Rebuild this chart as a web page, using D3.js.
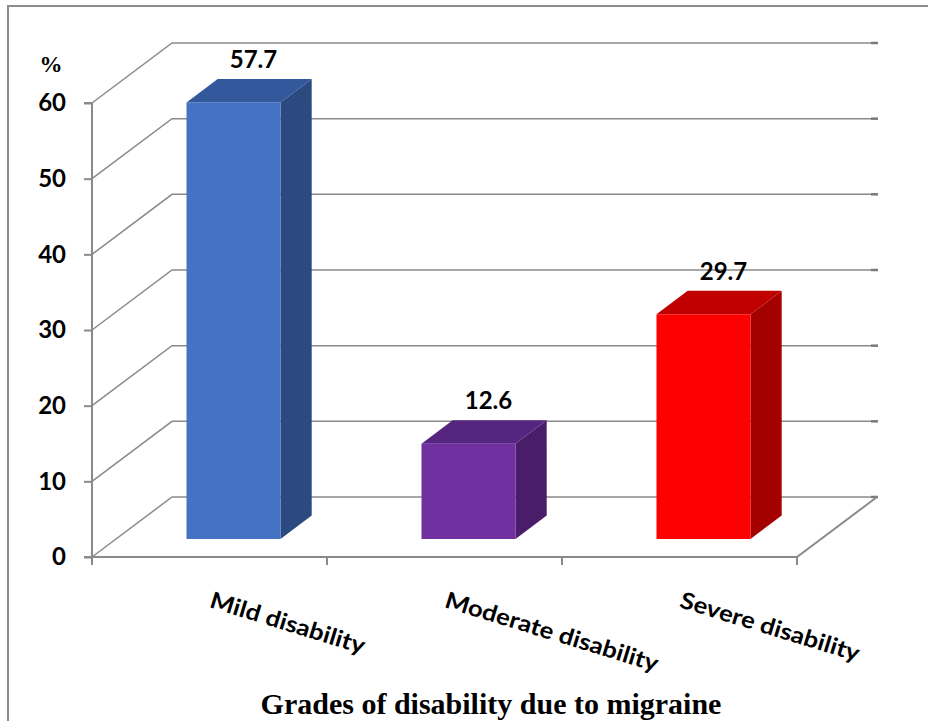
<!DOCTYPE html>
<html><head><meta charset="utf-8">
<script src="https://cdn.jsdelivr.net/npm/d3@7"></script>
<style>body{margin:0;background:#fff}svg{display:block}</style>
</head><body>
<svg id="c" width="928" height="721"></svg>
<script>
const categories = ["Mild disability", "Moderate disability", "Severe disability"];
const values = [57.7, 12.6, 29.7];
const yTicks = [0, 10, 20, 30, 40, 50, 60];
const frontColors = ["#4472C4", "#7030A0", "#FF0000"];
const topColors = ["#34589C", "#55257F", "#C00000"];
const sideColors = ["#2B4A80", "#4A1D6B", "#A50000"];
const yUnit = "%";
const xTitle = "Grades of disability due to migraine";

const svg = d3.select("#c");
const W = 928, H = 721;
const x = d3.scaleBand().domain(categories).range([92, 797]).padding(0);
const y = d3.scaleLinear().domain([0, 60]).range([557, 103]);
const DX = 80, DY = -60;          // full depth offset of the back wall
const d0 = 0.3, d1 = 0.69;         // bar depth fractions
const barFrac = 0.4;
const grid = "#8a8a8a";
const sans = "Lato, 'Open Sans', sans-serif";

// frame
svg.append("path").attr("d", `M8,${H} L8,6 L${W},6`).attr("fill", "none")
  .attr("stroke", "#8c8c8c").attr("stroke-width", 2);

const g = svg.append("g");
yTicks.forEach(t => {
  const yf = y(t);
  g.append("path")
    .attr("d", `M92,${yf} L${92 + DX},${yf + DY} L${797 + DX},${yf + DY}`)
    .attr("fill", "none").attr("stroke", grid).attr("stroke-width", 1.5);
  g.append("line").attr("x1", 797 + DX - 6).attr("x2", 797 + DX + 1)
    .attr("y1", yf + DY).attr("y2", yf + DY).attr("stroke", "#7a7a7a").attr("stroke-width", 2.5);
});
g.append("path")
  .attr("d", `M92,${y(0)} L797,${y(0)} L${797 + DX},${y(0) + DY}`)
  .attr("fill", "none").attr("stroke", grid).attr("stroke-width", 2);

// y axis
const yAxis = d3.axisLeft(y).tickValues(yTicks).tickSize(8).tickPadding(18);
const ya = svg.append("g").attr("transform", "translate(92,0)").call(yAxis);
ya.select(".domain").attr("stroke", grid).attr("stroke-width", 2).attr("d", `M-8,${y(60)}H0V${y(0)}H-8`);
ya.selectAll(".tick line").attr("stroke", grid).attr("stroke-width", 2);
ya.selectAll(".tick text").attr("font-family", sans)
  .attr("font-weight", "bold").attr("font-size", 24).attr("fill", "#000");

// x ticks
const xEdges = categories.map(c => x(c)).concat([x(categories[categories.length - 1]) + x.bandwidth()]);
svg.selectAll(".xt").data(xEdges).enter().append("line")
  .attr("x1", d => d).attr("x2", d => d).attr("y1", y(0)).attr("y2", y(0) + 8)
  .attr("stroke", grid).attr("stroke-width", 2);

// bars
const bw = x.bandwidth() * barFrac;
const bars = svg.append("g");
categories.forEach((c, i) => {
  const cx = x(c) + x.bandwidth() / 2;
  const fx0 = cx - bw / 2 + DX * d0, fx1 = cx + bw / 2 + DX * d0;
  const fy0 = y(0) + DY * d0, fy1 = y(values[i]) + DY * d0;
  const ddx = DX * (d1 - d0), ddy = DY * (d1 - d0);
  bars.append("path").attr("fill", sideColors[i])
    .attr("d", `M${fx1},${fy0} L${fx1 + ddx},${fy0 + ddy} L${fx1 + ddx},${fy1 + ddy} L${fx1},${fy1}Z`);
  bars.append("path").attr("fill", topColors[i])
    .attr("d", `M${fx0},${fy1} L${fx0 + ddx},${fy1 + ddy} L${fx1 + ddx},${fy1 + ddy} L${fx1},${fy1}Z`);
  bars.append("rect").attr("fill", frontColors[i])
    .attr("x", fx0).attr("y", fy1).attr("width", fx1 - fx0).attr("height", fy0 - fy1);
  bars.append("text").text(values[i].toFixed(1))
    .attr("x", cx + DX * 0.55).attr("y", fy1 + ddy - 11)
    .attr("text-anchor", "middle").attr("font-family", sans)
    .attr("font-weight", "bold").attr("font-size", 24).attr("fill", "#000");
});

// category labels
categories.forEach(c => {
  const cx = x(c) + x.bandwidth() / 2;
  svg.append("text").text(c)
    .attr("transform", `translate(${cx - 1},${607}) rotate(17) scale(1.12,1)`)
    .attr("font-family", sans)
    .attr("font-weight", "bold").attr("font-size", 23).attr("fill", "#000");
});

// unit label
svg.append("text").text(yUnit).attr("x", 51).attr("y", 72).attr("text-anchor", "middle")
  .attr("font-family", "'Liberation Serif', serif").attr("font-weight", "bold")
  .attr("font-size", 23).attr("fill", "#000");

// x title
svg.append("text").text(xTitle).attr("x", 491).attr("y", 714).attr("text-anchor", "middle")
  .attr("font-family", "'Liberation Serif', 'Times New Roman', serif").attr("font-weight", "bold")
  .attr("font-size", 30).attr("fill", "#000");
</script>
</body></html>
